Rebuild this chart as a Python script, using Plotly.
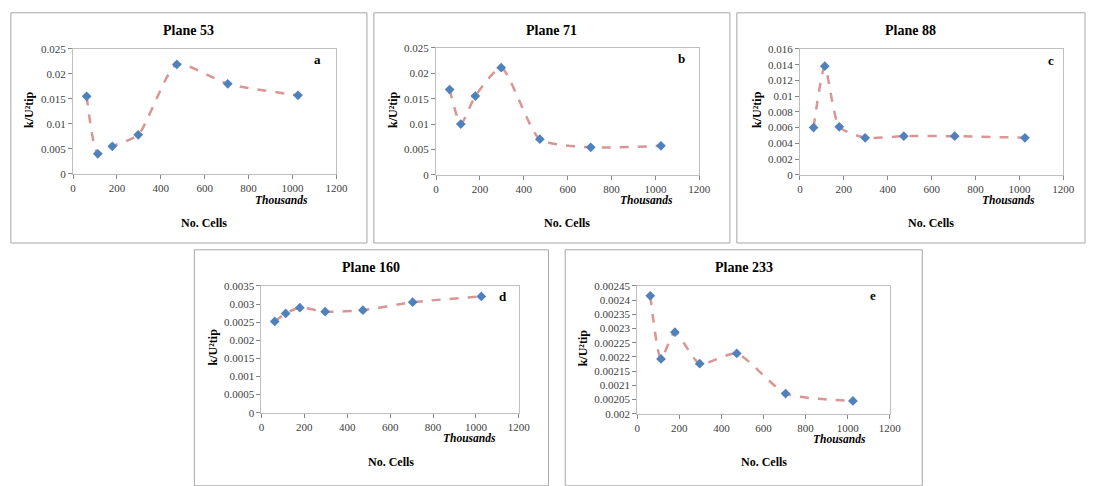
import plotly.graph_objects as go

W, H = 1099, 486

# ---- data ----
cells_k = [62, 113, 179, 297, 473, 705, 1025]  # No. Cells (thousands)
plane53 = [0.0155, 0.0040, 0.0055, 0.0078, 0.0219, 0.0180, 0.0157]
plane71 = [0.0168, 0.0100, 0.0155, 0.0211, 0.0070, 0.0054, 0.0057]
plane88 = [0.0060, 0.0138, 0.0061, 0.0047, 0.0049, 0.0049, 0.0047]
plane160 = [0.00252, 0.00274, 0.00290, 0.00279, 0.00283, 0.00305, 0.00321]
plane233 = [0.002415, 0.002193, 0.002287, 0.002176, 0.002212, 0.002071, 0.002045]

x_ticks = [0, 200, 400, 600, 800, 1000, 1200]
y_ticks_a = [0, 0.005, 0.01, 0.015, 0.02, 0.025]
y_text_a = ["0", "0.005", "0.01", "0.015", "0.02", "0.025"]
y_ticks_c = [0, 0.002, 0.004, 0.006, 0.008, 0.01, 0.012, 0.014, 0.016]
y_text_c = ["0", "0.002", "0.004", "0.006", "0.008", "0.01", "0.012", "0.014", "0.016"]
y_ticks_d = [0, 0.0005, 0.001, 0.0015, 0.002, 0.0025, 0.003, 0.0035]
y_text_d = ["0", "0.0005", "0.001", "0.0015", "0.002", "0.0025", "0.003", "0.0035"]
y_ticks_e = [0.002, 0.00205, 0.0021, 0.00215, 0.0022, 0.00225, 0.0023, 0.00235, 0.0024, 0.00245]
y_text_e = ["0.002", "0.00205", "0.0021", "0.00215", "0.0022", "0.00225", "0.0023", "0.00235", "0.0024", "0.00245"]

titles = ["Plane 53", "Plane 71", "Plane 88", "Plane 160", "Plane 233"]
letters = ["a", "b", "c", "d", "e"]

panels = [
    dict(y=plane53, yt=y_ticks_a, ytx=y_text_a, rng=[0, 0.025],
         plot=(71, 338, 44, 172), frame=(8, 7, 369, 243),
         letter=(319, 55), thou=(311, 199), cells=(204, 222), ytitle=(27, 106)),
    dict(y=plane71, yt=y_ticks_a, ytx=y_text_a, rng=[0, 0.025],
         plot=(439, 706, 43, 173), frame=(376, 7, 737, 243),
         letter=(688, 54), thou=(681, 199), cells=(572, 222), ytitle=(396, 106)),
    dict(y=plane88, yt=y_ticks_c, ytx=y_text_c, rng=[0, 0.016],
         plot=(808, 1075, 44, 173), frame=(744, 7, 1097, 243),
         letter=(1063, 56), thou=(1048, 199), cells=(941, 222), ytitle=(765, 106)),
    dict(y=plane160, yt=y_ticks_d, ytx=y_text_d, rng=[0, 0.0035],
         plot=(262, 523, 287, 417), frame=(194, 250, 553, 492),
         letter=(507, 298), thou=(502, 443), cells=(393, 468), ytitle=(213, 350)),
    dict(y=plane233, yt=y_ticks_e, ytx=y_text_e, rng=[0.002, 0.00245],
         plot=(643, 899, 287, 418), frame=(570, 250, 932, 492),
         letter=(882, 297), thou=(877, 444), cells=(772, 468), ytitle=(588, 350)),
]

def px(x):
    return x / W

def py(y):
    return 1 - y / H

FONT = "Liberation Serif"
fig = go.Figure()
annotations = []
shapes = []

for i, p in enumerate(panels):
    n = "" if i == 0 else str(i + 1)
    xa, ya = "x" + n, "y" + n
    x0, x1, y0, y1 = p["plot"]
    fig.add_trace(go.Scatter(
        x=cells_k, y=p["y"], xaxis=xa, yaxis=ya, mode="lines+markers",
        line=dict(color="#D99694", width=2.5, dash="dash", shape="spline", smoothing=0.6),
        marker=dict(symbol="diamond", size=7.5, color="#4F81BD"),
        showlegend=False, cliponaxis=False))
    common = dict(showgrid=False, zeroline=False, showline=True, mirror=True,
                  linecolor="#BFBFBF", linewidth=1, ticks="outside", ticklen=4,
                  tickcolor="#868686",
                  tickfont=dict(family=FONT, size=11, color="#404040"))
    fig.update_layout(**{
        "xaxis" + n: dict(domain=[px(x0), px(x1)], range=[0, 1200], tickvals=x_ticks,
                          anchor=ya, **common),
        "yaxis" + n: dict(domain=[py(y1), py(y0)], range=p["rng"], tickvals=p["yt"],
                          ticktext=p["ytx"], anchor=xa, **common),
    })
    fx0, fy0, fx1, fy1 = p["frame"]
    shapes.append(dict(type="rect", xref="paper", yref="paper",
                       x0=px(fx0), x1=px(fx1), y0=py(fy1), y1=py(fy0),
                       line=dict(color="#A6A6A6", width=1)))
    ty = 25 if i < 3 else 268
    annotations.append(dict(text="<b>%s</b>" % titles[i], x=px((fx0 + fx1) / 2), y=py(ty),
                            xref="paper", yref="paper", showarrow=False,
                            font=dict(family=FONT, size=14, color="black"),
                            xanchor="center", yanchor="middle"))
    lx, ly = p["letter"]
    annotations.append(dict(text="<b>%s</b>" % letters[i], x=px(lx), y=py(ly),
                            xref="paper", yref="paper", showarrow=False,
                            font=dict(family=FONT, size=13, color="black"),
                            xanchor="center", yanchor="middle"))
    tx, tyy = p["thou"]
    annotations.append(dict(text="<b><i>Thousands</i></b>", x=px(tx), y=py(tyy),
                            xref="paper", yref="paper", showarrow=False,
                            font=dict(family=FONT, size=11.5, color="black"),
                            xanchor="right", yanchor="middle"))
    cx, cy = p["cells"]
    annotations.append(dict(text="<b>No. Cells</b>", x=px(cx), y=py(cy),
                            xref="paper", yref="paper", showarrow=False,
                            font=dict(family=FONT, size=12, color="black"),
                            xanchor="center", yanchor="middle"))
    yx, yy = p["ytitle"]
    annotations.append(dict(text="<b>k/U²tip</b>", x=px(yx), y=py(yy),
                            xref="paper", yref="paper", showarrow=False, textangle=-90,
                            font=dict(family=FONT, size=12, color="black"),
                            xanchor="center", yanchor="middle"))

fig.update_layout(width=W, height=H, margin=dict(l=0, r=0, t=0, b=0),
                  font=dict(family=FONT),
                  paper_bgcolor="white", plot_bgcolor="white",
                  annotations=annotations, shapes=shapes)
fig.write_html("out.html")
